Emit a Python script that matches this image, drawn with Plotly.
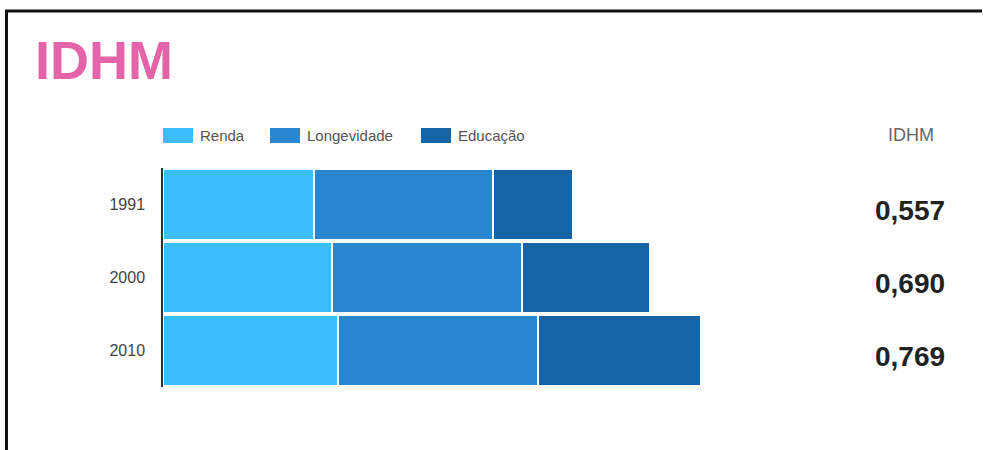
import plotly.graph_objects as go

years = ["1991", "2000", "2010"]
series_names = ["Renda", "Longevidade", "Educação"]
renda = [0.651, 0.728, 0.754]
longevidade = [0.772, 0.819, 0.862]
educacao = [0.345, 0.553, 0.703]
idhm_labels = ["0,557", "0,690", "0,769"]
colors = ["#3bbffa", "#2a86cf", "#1565a6"]

W, H = 983, 450
L, R, T, B = 163, 124, 168, 63
PW, PH = W - L - R, H - T - B


def px(x):
    return (x - L) / PW


def py(y):
    return (H - B - y) / PH


fig = go.Figure()
for name, vals, col in zip(series_names, [renda, longevidade, educacao], colors):
    fig.add_trace(go.Bar(
        y=years, x=vals, name=name, orientation="h",
        marker=dict(color=col, line=dict(color="white", width=1.5)),
        showlegend=False,
    ))

shapes = []
annotations = []

# frame (top and left edges visible)
shapes.append(dict(type="line", xref="paper", yref="paper",
                   x0=px(5), x1=px(983), y0=py(11), y1=py(11),
                   line=dict(color="#111", width=3)))
shapes.append(dict(type="line", xref="paper", yref="paper",
                   x0=px(6.5), x1=px(6.5), y0=py(10), y1=py(450),
                   line=dict(color="#111", width=3)))

# legend (manual swatches)
leg_x = [163, 270, 421]
for name, col, x0 in zip(series_names, colors, leg_x):
    shapes.append(dict(type="rect", xref="paper", yref="paper",
                       x0=px(x0), x1=px(x0 + 30), y0=py(143), y1=py(128),
                       line=dict(width=0), fillcolor=col))
    annotations.append(dict(text=name, xref="paper", yref="paper",
                            x=px(x0 + 35), y=py(135.5), xanchor="left", yanchor="middle",
                            showarrow=False,
                            font=dict(family="Liberation Sans, Arial", size=15, color="#555")))

# title
annotations.append(dict(text="<b>IDHM</b>", xref="paper", yref="paper",
                        x=px(33), y=py(60), xanchor="left", yanchor="middle",
                        showarrow=False,
                        font=dict(family="Liberation Sans, Arial",
                                  size=54, color="#e563a8")))

# IDHM header
annotations.append(dict(text="IDHM", xref="paper", yref="paper",
                        x=px(911), y=py(135), xanchor="center", yanchor="middle",
                        showarrow=False,
                        font=dict(family="Liberation Sans, Arial", size=18, color="#666")))

# IDHM values (category index positions)
for i, lab in enumerate(idhm_labels):
    annotations.append(dict(text="<b>" + lab + "</b>", xref="paper", yref="y",
                            x=px(910), y=i, xanchor="center", yanchor="middle",
                            yshift=-6, showarrow=False,
                            font=dict(family="Liberation Sans, Arial", size=28, color="#222")))

fig.update_layout(
    width=W - 1, height=H,
    margin=dict(l=L, r=R - 1, t=T, b=B, pad=0),
    barmode="stack", bargap=0.025,
    plot_bgcolor="white", paper_bgcolor="white",
    shapes=shapes, annotations=annotations,
    xaxis=dict(range=[0, PW / 232.0], visible=False, showgrid=False, zeroline=False,
               fixedrange=True),
    yaxis=dict(type="category", categoryorder="array", categoryarray=years,
               range=[2.5, -0.5], autorange=False,
               showline=True, linecolor="#333", linewidth=1.5,
               showgrid=False, ticks="", ticklabelstandoff=13,
               tickfont=dict(family="Liberation Sans, Arial", size=16, color="#444"),
               fixedrange=True),
)

fig.write_html(
    "out.html", config={"displayModeBar": False},
    post_script=("document.body.style.margin='0';"
                 "document.body.style.overflow='hidden';"
                 "document.documentElement.style.overflow='hidden';"),
)
